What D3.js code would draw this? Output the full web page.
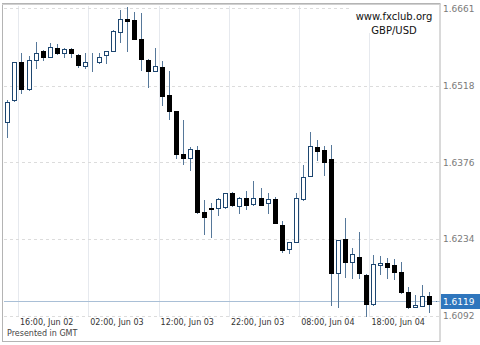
<!DOCTYPE html>
<html>
<head>
<meta charset="utf-8">
<script src="https://cdn.jsdelivr.net/npm/d3@7"></script>
<style>
  body { margin: 0; background: #fff; }
  text { font-family: "DejaVu Sans", Verdana, sans-serif; }
</style>
</head>
<body>
<div id="chart"></div>
<script>
var width = 480,
  height = 345;

// hourly GBP/USD candles, first one is 14:00 Jun 02 (GMT)
var startTime = Date.UTC(2009, 5, 2, 14);
var opens  = [1.6451,1.6491,1.6561,1.6511,1.6565,1.6581,1.6571,1.6587,1.6578,1.6585,
              1.6575,1.6554,1.6561,1.6561,1.6575,1.6582,1.6618,1.6642,1.6639,1.6604,
              1.6565,1.6545,1.6553,1.6500,1.6470,1.6392,1.6383,1.6399,1.6283,1.6291,
              1.6291,1.6293,1.6318,1.6295,1.6310,1.6298,1.6309,1.6300,1.6307,1.6260,
              1.6215,1.6229,1.6307,1.6351,1.6404,1.6399,1.6381,1.6171,1.6233,1.6191,
              1.6201,1.6167,1.6113,1.6186,1.6190,1.6186,1.6173,1.6136,1.6108,1.6110,
              1.6129,1.6119];
var highs  = [1.6491,1.6562,1.6578,1.6573,1.6599,1.6583,1.6597,1.6595,1.6588,1.6588,
              1.6576,1.6578,1.6578,1.6578,1.6582,1.6621,1.6658,1.6663,1.6655,1.6652,
              1.6567,1.6587,1.6564,1.6544,1.6471,1.6454,1.6405,1.6406,1.6306,1.6300,
              1.6310,1.6319,1.6320,1.6311,1.6323,1.6341,1.6328,1.6318,1.6312,1.6267,
              1.6228,1.6318,1.6371,1.6432,1.6417,1.6406,1.6408,1.6232,1.6272,1.6217,
              1.6247,1.6169,1.6204,1.6202,1.6198,1.6196,1.6192,1.6145,1.6130,1.6149,
              1.6136,1.6119];
var lows   = [1.6423,1.6489,1.6505,1.6510,1.6550,1.6565,1.6570,1.6576,1.6571,1.6571,
              1.6553,1.6550,1.6545,1.6559,1.6559,1.6582,1.6599,1.6582,1.6604,1.6547,
              1.6515,1.6545,1.6482,1.6456,1.6383,1.6373,1.6362,1.6282,1.6243,1.6238,
              1.6278,1.6291,1.6295,1.6281,1.6290,1.6297,1.6296,1.6282,1.6263,1.6210,
              1.6207,1.6228,1.6306,1.6350,1.6380,1.6352,1.6111,1.6107,1.6164,1.6162,
              1.6162,1.6092,1.6112,1.6169,1.6161,1.6159,1.6134,1.6106,1.6108,1.6110,
              1.6099,1.6119];
var closes = [1.6488,1.6561,1.6511,1.6565,1.6578,1.6571,1.6590,1.6578,1.6585,1.6578,
              1.6556,1.6562,1.6561,1.6570,1.6581,1.6619,1.6642,1.6638,1.6605,1.6567,
              1.6545,1.6554,1.6499,1.6470,1.6392,1.6383,1.6400,1.6283,1.6275,1.6290,
              1.6307,1.6318,1.6297,1.6310,1.6297,1.6309,1.6297,1.6307,1.6264,1.6213,
              1.6228,1.6309,1.6349,1.6406,1.6397,1.6377,1.6171,1.6231,1.6192,1.6205,
              1.6170,1.6113,1.6187,1.6189,1.6182,1.6172,1.6135,1.6107,1.6111,1.6129,
              1.6113,1.6119];
var yTicks = [1.6661, 1.6518, 1.6376, 1.6234, 1.6092];
var lastPrice = 1.6119;
var symbol = "GBP/USD";
var site = "www.fxclub.org";

var times = d3.utcHour.range(new Date(startTime), new Date(startTime + opens.length * 3600e3));
var candles = times.map(function(t, i) {
  return {t: t, o: opens[i], h: highs[i], l: lows[i], c: closes[i]};
});
// a time label every 10 hours, starting at 16:00 Jun 02
var xTicks = times.filter(function(t, i) { return i >= 2 && (i - 2) % 10 === 0; });
var fmtTime = d3.utcFormat("%H:%M, %b %d");

var svg = d3.select("#chart").append("svg")
  .attr("width", width)
  .attr("height", height);

var x = d3.scaleBand()
  .domain(times)
  .range([3.9, 439.8]);

var y = d3.scaleLinear()
  .domain([1.6092, 1.6661])
  .range([315.5, 8.3]);

function px(v) { return Math.round(v) + 0.5; }
function cx(d) { return Math.round(x(d.t) + x.bandwidth() / 2); }

// frame
svg.append("rect")
  .attr("x", 2.5).attr("y", 3.5)
  .attr("width", 437.5).attr("height", 338)
  .attr("fill", "#fff")
  .attr("stroke", "#b4b4b4");
svg.append("line")
  .attr("x1", 2).attr("x2", 441)
  .attr("y1", 4.5).attr("y2", 4.5)
  .attr("stroke", "#d0d0d0");

// vertical grid
svg.append("g").selectAll("line")
  .data(xTicks)
  .enter().append("line")
    .attr("x1", function(d) { return px(x(d)); })
    .attr("x2", function(d) { return px(x(d)); })
    .attr("y1", 6).attr("y2", 317)
    .attr("stroke", "#e6e9ee");

// horizontal grid
svg.append("g").selectAll("line")
  .data(yTicks)
  .enter().append("line")
    .attr("x1", 4).attr("x2", 439)
    .attr("y1", function(d) { return px(y(d)); })
    .attr("y2", function(d) { return px(y(d)); })
    .attr("stroke", "#dcdcdc")
    .attr("stroke-dasharray", "3,3");

// label box top right
svg.append("rect")
  .attr("x", 352).attr("y", 5)
  .attr("width", 87).attr("height", 28)
  .attr("fill", "#fff");
svg.append("text")
  .attr("x", 394).attr("y", 20)
  .attr("text-anchor", "middle")
  .attr("font-size", "10px")
  .attr("fill", "#111")
  .text(site);
svg.append("text")
  .attr("x", 394).attr("y", 34)
  .attr("text-anchor", "middle")
  .attr("font-size", "10px")
  .attr("fill", "#111")
  .text(symbol);

// last price line
svg.append("line")
  .attr("x1", 4).attr("x2", 440)
  .attr("y1", px(y(lastPrice))).attr("y2", px(y(lastPrice)))
  .attr("stroke", "#a9bfd6");

// candles
var g = svg.append("g");
g.selectAll(".wick")
  .data(candles)
  .enter().append("line")
    .attr("class", "wick")
    .attr("x1", function(d) { return cx(d) + 0.5; })
    .attr("x2", function(d) { return cx(d) + 0.5; })
    .attr("y1", function(d) { return Math.round(y(d.h)); })
    .attr("y2", function(d) { return Math.round(y(d.l)) + 1; })
    .attr("stroke", "#56789a");

g.selectAll(".body")
  .data(candles)
  .enter().append("rect")
    .attr("class", "body")
    .attr("x", function(d) { return cx(d) - 1.5; })
    .attr("y", function(d) { return px(y(Math.max(d.o, d.c))); })
    .attr("width", 4)
    .attr("height", function(d) { return Math.max(0, Math.round(y(Math.min(d.o, d.c))) - Math.round(y(Math.max(d.o, d.c)))); })
    .attr("fill", function(d) { return d.c < d.o ? "#000" : "#fff"; })
    .attr("stroke", function(d) { return d.c < d.o ? "#000" : "#1d4670"; });

// y labels
svg.append("g").selectAll("text")
  .data(yTicks)
  .enter().append("text")
    .attr("x", 443)
    .attr("y", function(d) { return y(d) + 3.5; })
    .attr("font-size", "9px")
    .attr("fill", "#7a7a7a")
    .text(d3.format(".4f"));

// last price tag
svg.append("rect")
  .attr("x", 441).attr("y", px(y(lastPrice)) - 7.5)
  .attr("width", 39).attr("height", 15)
  .attr("fill", "#2f76bd");
svg.append("text")
  .attr("x", 443)
  .attr("y", y(lastPrice) + 4)
  .attr("font-size", "9px")
  .attr("fill", "#fff")
  .text(d3.format(".4f")(lastPrice));

// time labels
svg.append("g").selectAll("text")
  .data(xTicks)
  .enter().append("text")
    .attr("x", function(d) { return x(d) + 2; })
    .attr("y", 325)
    .attr("font-size", "8px")
    .attr("fill", "#333")
    .text(fmtTime);

svg.append("text")
  .attr("x", 7).attr("y", 336)
  .attr("font-size", "8px")
  .attr("fill", "#444")
  .text("Presented in GMT");
</script>
</body>
</html>
